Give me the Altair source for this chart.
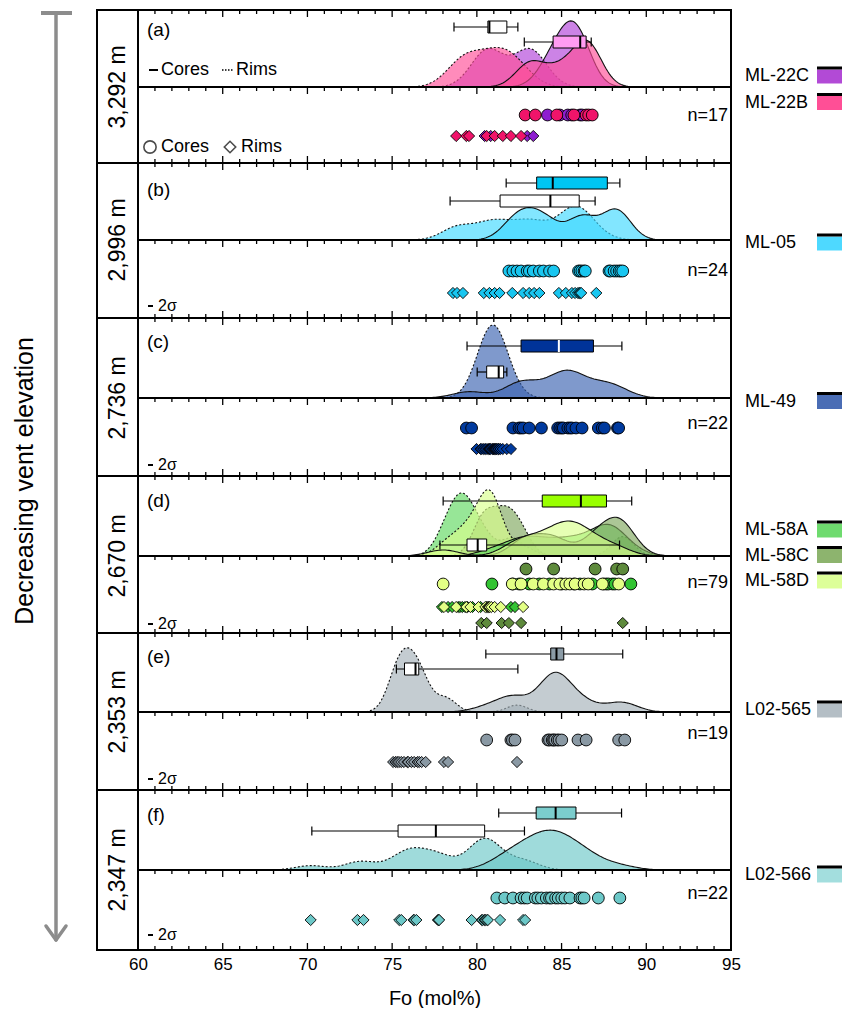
import altair as alt
import pandas as pd

# ---------------- values (Fo, mol%) ----------------
panel_ids = ["a", "b", "c", "d", "e", "f"]
elevations = ["3,292 m", "2,996 m", "2,736 m", "2,670 m", "2,353 m", "2,347 m"]
n_labels = ["n=17", "n=24", "n=22", "n=79", "n=19", "n=22"]
samples = ["ML-22C", "ML-22B", "ML-05", "ML-49", "ML-58A", "ML-58C", "ML-58D", "L02-565", "L02-566"]
sample_panel = ["a", "a", "b", "c", "d", "d", "d", "e", "f"]

core_ml22c = [84.17, 84.89, 85.37, 85.6, 86.09, 86.21]
core_ml22b = [82.85, 83.45, 84.72, 85.73, 86.45, 86.6, 86.81]
rim_ml22c = [80.46, 80.82, 82.97, 83.33]
rim_ml22b = [78.78, 79.38, 79.54, 80.58, 81.05, 81.53, 82.01, 82.61]

core_ml05 = [81.89, 82.13, 82.37, 82.61, 82.97, 83.1, 83.33, 83.69, 83.93, 84.29, 84.53,
             86.0, 86.09, 86.2, 86.33, 86.4, 87.8, 87.89, 88.1, 88.25, 88.4, 88.5, 88.61]
rim_ml05 = [78.59, 78.83, 79.18, 80.41, 80.74, 81.05, 81.34, 82.09, 82.73, 83.09, 83.38, 83.69,
            84.84, 85.25, 85.61, 85.8, 85.97, 86.05, 86.1, 86.16, 87.05]

core_ml49 = [79.38, 79.69, 82.13, 82.49, 82.6, 82.73, 83.09, 83.81, 84.77, 84.9, 85.01, 85.1, 85.37,
             85.5, 85.61, 85.85, 86.21, 87.17, 87.4, 87.53, 88.3, 88.37]
rim_ml49 = [79.98, 80.22, 80.3, 80.41, 80.5, 80.6, 80.7, 80.75, 80.8, 80.9, 80.95, 81.0, 81.05,
            81.1, 81.15, 81.2, 81.29, 81.3, 81.4, 81.53, 81.77, 82.01]

core_ml58a = [80.89, 82.13, 82.49, 83.09, 83.69, 84.29, 85.01, 85.73, 86.09, 86.81, 87.5, 87.65,
              87.77, 88.01, 88.15, 89.09]
core_ml58c = [82.9, 84.53, 86.98, 88.25, 88.61]
core_ml58d = [78.01, 82.09, 82.61, 83.33, 83.93, 84.53, 84.9, 85.25, 85.49, 85.8, 86.33, 86.57,
              87.41, 88.37]
rim_ml58a = [77.94, 78.3, 78.54, 78.9, 79.0, 79.14, 79.3, 79.45, 79.74, 80.22, 80.58, 82.01, 82.25]
rim_ml58c = [80.26, 80.58, 81.46, 81.89, 82.61, 88.61]
rim_ml58d = [78.06, 78.78, 79.38, 79.62, 80.1, 80.5, 80.65, 80.7, 80.75, 80.85, 81.05, 81.41, 82.73]

core_l02565 = [80.58, 82.01, 82.1, 82.25, 84.2, 84.29, 84.45, 84.53, 84.6, 84.75, 84.85, 85.01,
               85.97, 86.45, 88.37, 88.73]
rim_l02565 = [75.06, 75.2, 75.3, 75.4, 75.54, 75.7, 75.9, 75.95, 76.14, 76.3, 76.5, 76.6, 76.74,
              76.98, 78.06, 78.3, 82.37]

core_l02566 = [81.18, 81.65, 82.13, 82.61, 82.8, 82.97, 83.45, 83.6, 83.81, 84.1, 84.29, 84.4,
               84.65, 84.8, 85.01, 85.2, 85.49, 86.09, 86.2, 86.33, 87.17, 88.44]
rim_l02566 = [70.19, 72.95, 73.31, 75.42, 75.54, 76.26, 76.3, 76.43, 77.7, 77.75, 77.77,
              79.69, 80.29, 80.35, 80.46, 80.5, 80.6, 80.65, 81.37, 82.73, 82.85]

cores = {"ML-22C": core_ml22c, "ML-22B": core_ml22b, "ML-05": core_ml05, "ML-49": core_ml49,
         "ML-58A": core_ml58a, "ML-58C": core_ml58c, "ML-58D": core_ml58d,
         "L02-565": core_l02565, "L02-566": core_l02566}
rims = {"ML-22C": rim_ml22c, "ML-22B": rim_ml22b, "ML-05": rim_ml05, "ML-49": rim_ml49,
        "ML-58A": rim_ml58a, "ML-58C": rim_ml58c, "ML-58D": rim_ml58d,
        "L02-565": rim_l02565, "L02-566": rim_l02566}

# box plots: [min, q1, median, q3, max]
box_core = {"a": [82.8, 84.5, 86.1, 86.45, 86.75], "b": [81.73, 83.53, 84.48, 87.7, 88.44],
            "c": [79.42, 82.61, 84.84, 86.88, 88.56], "d": [78.01, 83.86, 86.14, 87.65, 89.14],
            "e": [80.53, 84.36, 84.7, 85.13, 88.61], "f": [81.29, 83.5, 84.65, 85.85, 88.54]}
box_rim = {"a": [78.65, 80.65, 80.74, 81.77, 82.42], "b": [78.42, 81.37, 84.34, 86.04, 86.98],
           "c": [80.02, 80.58, 81.29, 81.58, 81.77], "d": [77.82, 79.42, 80.05, 80.58, 88.42],
           "e": [75.25, 75.73, 76.38, 76.57, 82.42], "f": [70.26, 75.35, 77.58, 80.46, 82.81]}

ticks_major = [60, 65, 70, 75, 80, 85, 90, 95]
ticks_minor = [v for v in range(61, 95) if v % 5]

# ---------------- styles / layout ----------------
FONT = "Liberation Sans"
W, H = 593, 940
PANEL_TOP = [0, 153, 308, 466, 623, 780]
PANEL_MID = [77, 230, 388, 546, 702, 860]
PANEL_BOT = [153, 308, 466, 623, 780, 940]

POINT_COLOR = {"ML-22C": "#8E1ED0", "ML-22B": "#F0146A", "ML-05": "#19C6F0", "ML-49": "#003A9E",
               "ML-58A": "#33C433", "ML-58C": "#5E8A3C", "ML-58D": "#E3FF85",
               "L02-565": "#8A99A4", "L02-566": "#6CC8C8"}
DENS_COLOR = {"ML-22C": "#B040D8", "ML-22B": "#FF4D96", "ML-05": "#3FD8FF", "ML-49": "#3A63B0",
              "ML-58A": "#5FD85F", "ML-58C": "#7FA85E", "ML-58D": "#D8FF8C",
              "L02-565": "#A4B0B9", "L02-566": "#6CC8C8"}
SWATCH_COLOR = {"ML-22C": "#B24AD6", "ML-22B": "#FF4F96", "ML-05": "#4ED9FF", "ML-49": "#4A6DB5",
                "ML-58A": "#6EDB6E", "ML-58C": "#8DB46E", "ML-58D": "#DDFF99",
                "L02-565": "#B4BEC5", "L02-566": "#A3DEDE"}
BOX_FILL = {"a": "#FF9CF2", "b": "#00C6F2", "c": "#003399", "d": "#99FF00", "e": "#8B9BA6", "f": "#7BCDCD"}
MED_COLOR = {"a": "black", "b": "black", "c": "white", "d": "black", "e": "black", "f": "black"}

PT_Y = {("ML-22C", "core"): 105, ("ML-22B", "core"): 105, ("ML-22C", "rim"): 126, ("ML-22B", "rim"): 126,
        ("ML-05", "core"): 261, ("ML-05", "rim"): 283, ("ML-49", "core"): 418, ("ML-49", "rim"): 439,
        ("ML-58C", "core"): 559, ("ML-58A", "core"): 574, ("ML-58D", "core"): 574,
        ("ML-58A", "rim"): 597, ("ML-58D", "rim"): 597, ("ML-58C", "rim"): 613,
        ("L02-565", "core"): 730, ("L02-565", "rim"): 752,
        ("L02-566", "core"): 888, ("L02-566", "rim"): 910}
BOX_Y = {("a", "rim"): 17, ("a", "core"): 32, ("b", "core"): 173, ("b", "rim"): 191,
         ("c", "core"): 336, ("c", "rim"): 362, ("d", "core"): 491, ("d", "rim"): 535,
         ("e", "core"): 644, ("e", "rim"): 659, ("f", "core"): 803, ("f", "rim"): 821}
BW = {("a", "core"): 0.8, ("a", "rim"): 0.95, ("b", "core"): 0.8, ("b", "rim"): 0.9,
      ("c", "core"): 0.95, ("c", "rim"): 0.75, ("d", "core"): 0.9, ("d", "rim"): 0.65,
      ("e", "core"): 0.9, ("e", "rim"): 0.6, ("f", "core"): 1.0, ("f", "rim"): 0.9}
DSCALE = {"a": 180, "b": 210, "c": 165, "d": 190, "e": 175, "f": 205}

LETTER_Y = [20, 180, 332, 491, 647, 805]
N_Y = [106, 261, 414, 573, 724, 884]
SIGMA_Y = [296, 455, 614, 769, 925]
LEGEND_Y = [66, 92.5, 233, 391.5, 520, 545.5, 571, 700, 865]

# ---------------- tables ----------------
rows = []
for s, p in zip(samples, sample_panel):
    for t, vals in (("core", cores[s]), ("rim", rims[s])):
        for v in vals:
            rows.append(dict(panel=p, sample=s, type=t, Fo=v, ypt=PT_Y[(s, t)],
                             pcolor=POINT_COLOR[s], dcolor=DENS_COLOR[s]))
pts = pd.DataFrame(rows)

brows = []
for p in panel_ids:
    for t, st, fc in (("core", box_core[p], BOX_FILL[p]), ("rim", box_rim[p], "white")):
        yb = BOX_Y[(p, t)]
        brows.append(dict(panel=p, type=t, mn=st[0], q1=st[1], med=st[2], q3=st[3], mx=st[4],
                          yb=yb, ylo=yb - 6, yhi=yb + 6, clo=yb - 4.5, chi=yb + 4.5, fillc=fc,
                          medc=MED_COLOR[p] if t == "core" else "black"))
boxes = pd.DataFrame(brows)

trows = []
for e in PANEL_TOP + PANEL_MID:
    trows += [(v, e, e + 7) for v in ticks_major] + [(v, e, e + 4) for v in ticks_minor]
for e in PANEL_BOT:
    trows += [(v, e - 7, e) for v in ticks_major] + [(v, e - 4, e) for v in ticks_minor]
ticks = pd.DataFrame(trows, columns=["Fo", "y1", "y2"])

# ---------------- encodings ----------------
XS = alt.Scale(domain=[60, 95], nice=False, zero=False)
YS = alt.Scale(domain=[0, H], reverse=True, nice=False, zero=False)
XAX = alt.Axis(values=ticks_major, ticks=False, domain=False, grid=False, format="d",
               labelFlush=False, labelFontSize=17, labelPadding=6, labelColor="black", labelFont=FONT,
               titleFontSize=20, titleFontWeight="normal", titleColor="black", titleFont=FONT,
               titlePadding=16)


def X(f):
    return alt.X(f"{f}:Q", scale=XS, axis=XAX, title="Fo (mol%)")


def Y(f):
    return alt.Y(f"{f}:Q", scale=YS, axis=None)


one = pd.DataFrame({"d": [0]})
L = []

# density curves
for i, p in enumerate(panel_ids):
    for t in ("rim", "core"):
        mk = dict(fillOpacity=0.65, stroke="#111111", strokeWidth=1.1, strokeOpacity=1)
        if t == "rim":
            mk["strokeDash"] = [2, 2]
        L.append(
            alt.Chart(pts)
            .transform_filter(f"datum.panel == '{p}' && datum.type == '{t}'")
            .transform_density("Fo", groupby=["sample", "dcolor"], bandwidth=BW[(p, t)],
                               extent=[60, 95], steps=351, as_=["Fo", "density"])
            .transform_calculate(ytop=f"{PANEL_MID[i]} - datum.density * {DSCALE[p]}",
                                 ybase=f"{PANEL_MID[i]}")
            .mark_area(**mk)
            .encode(x=X("Fo"), y=Y("ytop"), y2="ybase:Q",
                    fill=alt.Fill("dcolor:N", scale=None), detail="sample:N")
        )

# box plots
L.append(alt.Chart(boxes).mark_rule(color="black", strokeWidth=1.2)
         .encode(x=X("mn"), x2="mx:Q", y=Y("yb")))
L.append(alt.Chart(boxes).transform_fold(["mn", "mx"], as_=["k", "Fo"])
         .mark_rule(color="black", strokeWidth=1.2)
         .encode(x=X("Fo"), y=Y("clo"), y2="chi:Q"))
L.append(alt.Chart(boxes).mark_rect(stroke="black", strokeWidth=1)
         .encode(x=X("q1"), x2="q3:Q", y=Y("ylo"), y2="yhi:Q", fill=alt.Fill("fillc:N", scale=None)))
L.append(alt.Chart(boxes).mark_rule(strokeWidth=2)
         .encode(x=X("med"), y=Y("ylo"), y2="yhi:Q", color=alt.Color("medc:N", scale=None)))

# frame lines
L.append(alt.Chart(pd.DataFrame({"y": PANEL_TOP + [H]})).mark_rule(color="black", strokeWidth=2)
         .encode(x=alt.value(-41), x2=alt.value(W), y=Y("y")))
L.append(alt.Chart(pd.DataFrame({"y": PANEL_MID})).mark_rule(color="black", strokeWidth=2)
         .encode(x=alt.value(0), x2=alt.value(W), y=Y("y")))
for xv in (-41, 0, W):
    L.append(alt.Chart(one).mark_rule(color="black", strokeWidth=2, strokeCap="square")
             .encode(x=alt.value(xv), y=alt.value(0), y2=alt.value(H)))
L.append(alt.Chart(ticks).mark_rule(color="black", strokeWidth=1.3)
         .encode(x=X("Fo"), y=Y("y1"), y2="y2:Q"))

# points
for t, shp, sz in (("rim", "diamond", 125), ("core", "circle", 140)):
    L.append(alt.Chart(pts).transform_filter(f"datum.type == '{t}'")
             .mark_point(shape=shp, filled=True, size=sz, stroke="black", strokeWidth=0.9, opacity=1)
             .encode(x=X("Fo"), y=Y("ypt"), fill=alt.Fill("pcolor:N", scale=None)))

# panel texts
TXT = dict(font=FONT, color="black")
L.append(alt.Chart(pd.DataFrame({"t": [f"({p})" for p in panel_ids], "y": LETTER_Y}))
         .mark_text(align="left", baseline="middle", fontSize=19, **TXT)
         .encode(x=alt.value(9), y=Y("y"), text="t:N"))
L.append(alt.Chart(pd.DataFrame({"t": n_labels, "y": N_Y}))
         .mark_text(align="right", baseline="middle", fontSize=18, **TXT)
         .encode(x=alt.value(W - 3), y=Y("y"), text="t:N"))
L.append(alt.Chart(pd.DataFrame({"t": elevations, "y": PANEL_MID}))
         .mark_text(align="center", baseline="middle", fontSize=23, angle=270, **TXT)
         .encode(x=alt.value(-20), y=Y("y"), text="t:N"))
sig = pd.DataFrame({"t": ["2σ"] * len(SIGMA_Y), "y": SIGMA_Y})
L.append(alt.Chart(sig).mark_text(align="left", baseline="middle", fontSize=16, **TXT)
         .encode(x=alt.value(20), y=Y("y"), text="t:N"))
L.append(alt.Chart(sig).mark_rule(color="black", strokeWidth=2)
         .encode(x=alt.value(10), x2=alt.value(15), y=Y("y")))

# line-style key (panel a)
L.append(alt.Chart(one).mark_rule(color="black", strokeWidth=2)
         .encode(x=alt.value(11), x2=alt.value(20), y=alt.value(60)))
L.append(alt.Chart(one).mark_rule(color="black", strokeWidth=1.6, strokeDash=[1.5, 1.5])
         .encode(x=alt.value(84), x2=alt.value(95), y=alt.value(60)))
for xv, s, yv in ((23, "Cores", 60), (98, "Rims", 60), (23, "Cores", 137), (103, "Rims", 137)):
    L.append(alt.Chart(one).mark_text(align="left", baseline="middle", fontSize=18, **TXT)
             .encode(x=alt.value(xv), y=alt.value(yv), text=alt.value(s)))
L.append(alt.Chart(one).mark_point(shape="circle", filled=False, size=150, color="black", strokeWidth=1.6)
         .encode(x=alt.value(12), y=alt.value(137)))
L.append(alt.Chart(one).mark_point(shape="diamond", filled=False, size=130, color="black", strokeWidth=1.6)
         .encode(x=alt.value(92), y=alt.value(137)))

# sample legend on the right
leg = pd.DataFrame({"s": samples, "y": LEGEND_Y, "c": [SWATCH_COLOR[s] for s in samples]})
leg["ylo"] = leg["y"] - 6.5
leg["yhi"] = leg["y"] + 7.5
leg["bl"] = leg["y"] - 9.5
L.append(alt.Chart(leg).mark_text(align="left", baseline="middle", fontSize=18, **TXT)
         .encode(x=alt.value(W + 14), y=Y("y"), text="s:N"))
L.append(alt.Chart(leg).mark_rect()
         .encode(x=alt.value(W + 86), x2=alt.value(W + 111), y=Y("ylo"), y2="yhi:Q",
                 fill=alt.Fill("c:N", scale=None)))
L.append(alt.Chart(leg).mark_rect(color="black")
         .encode(x=alt.value(W + 86), x2=alt.value(W + 111), y=Y("bl"), y2="ylo:Q"))

# elevation arrow
GRAY = "#8C8C8C"
L.append(alt.Chart(one).mark_rule(color=GRAY, strokeWidth=3.5)
         .encode(x=alt.value(-82), y=alt.value(3), y2=alt.value(930)))
L.append(alt.Chart(one).mark_rule(color=GRAY, strokeWidth=4)
         .encode(x=alt.value(-97), x2=alt.value(-66), y=alt.value(3)))
for xe in (-92, -72):
    L.append(alt.Chart(one).mark_rule(color=GRAY, strokeWidth=3.5, strokeCap="round")
             .encode(x=alt.value(-82), x2=alt.value(xe), y=alt.value(930), y2=alt.value(916)))
L.append(alt.Chart(one).mark_text(align="center", baseline="middle", fontSize=25, angle=270, **TXT)
         .encode(x=alt.value(-113), y=alt.value(471), text=alt.value("Decreasing vent elevation")))

chart = (
    alt.layer(*L)
    .properties(width=W, height=H, autosize=alt.AutoSizeParams(type="none"),
                padding={"left": 130, "top": 2, "right": 117, "bottom": 58})
    .configure_view(stroke=None)
    .configure(background="white")
)
chart.save("out.html", embed_options={"renderer": "svg", "actions": False})
